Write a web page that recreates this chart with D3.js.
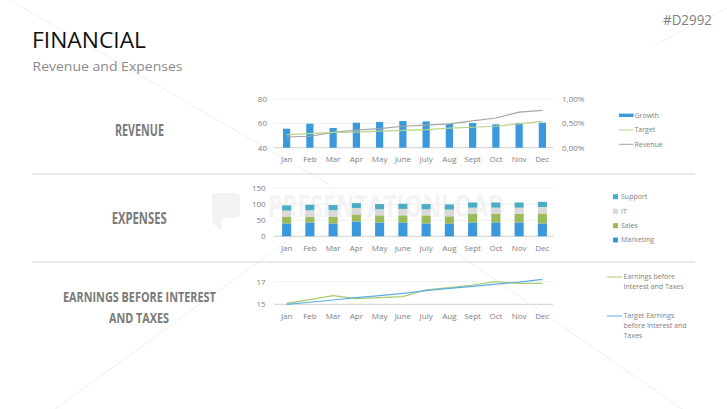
<!DOCTYPE html>
<html><head><meta charset="utf-8">
<script src="https://cdn.jsdelivr.net/npm/d3@7"></script>
<style>
html,body{margin:0;padding:0;background:#fff;}
svg{display:block;}
text{font-family:"Open Sans",sans-serif;}
</style></head>
<body>
<svg id="c" width="727" height="409"></svg>
<script>
// ---------- DATA ----------
const months = ["Jan","Feb","Mar","Apr","May","June","July","Aug","Sept","Oct","Nov","Dec"];
// Revenue section
const growth  = [55.6,59.7,56.2,60.5,61.1,61.9,61.6,59.5,60.3,59.2,60.3,60.5];        // left axis
const target  = [0.27,0.29,0.315,0.32,0.34,0.355,0.37,0.40,0.42,0.44,0.49,0.54];      // right axis (%)
const revenue = [0.22,0.235,0.315,0.36,0.39,0.44,0.465,0.49,0.55,0.61,0.73,0.765];   // right axis (%)
const revLeftTicks = [40,60,80];
const revRightTicks = [0,0.5,1];
// Expenses section
const marketing = [40,43,40,46,43,43,40,40,43,43,43,40];
const sales     = [20,18,21,22,22,22,25,22,27,27,27,31];
const it        = [20,20,20,20,19,20,19,21,19,19,19,20];
const support   = [16,17,16,15,16,16,16,16,16,16,16,16];
const expTicks = [0,50,100,150];
// Earnings section
const ebit       = [15.09,15.41,15.76,15.5,15.59,15.68,16.29,16.47,16.71,17.0,16.85,16.85];
const ebitTarget = [15.0,15.18,15.38,15.59,15.76,15.97,16.21,16.41,16.59,16.79,16.97,17.21];
const earnTicks = [15,17];

// ---------- STYLE ----------
const C = {
  blue:"#3a98dd", sales:"#9bbb59", it:"#d9d9d9", support:"#4bacc6",
  target:"#b8d48a", revenue:"#a6a6a6", ebit:"#a9c96b", ebitT:"#5aaee3",
  text:"#808080", grid:"#efefef", base:"#d9d9d9", sep:"#d4d4d4"
};

const svg = d3.select("#c");

// faint decorative diagonal lines
const deco = [[10,0,330,185],[0,449,330,210],[455,252,727,440],[655,45,727,8]];
svg.append("g").selectAll("line").data(deco).join("line")
  .attr("x1",d=>d[0]).attr("y1",d=>d[1]).attr("x2",d=>d[2]).attr("y2",d=>d[3])
  .attr("stroke","#efefef").attr("stroke-width",1);

// fit text horizontally to a width via a scale transform
function fitText(sel, x, y, w){
  const w0 = sel.node().getComputedTextLength() || w;
  sel.attr("transform",`translate(${x},${y}) scale(${w/w0},1)`);
  return sel;
}

// watermark
svg.append("path")
  .attr("d","M216,193 H234 Q240,193 240,199 V212 Q240,218 234,218 H222 V230 Q212,226 212,218 V197 Q212,193 216,193 Z")
  .attr("fill","#f3f3f3");
fitText(svg.append("text").attr("font-size",30).attr("font-weight","bold").attr("fill","#f3f3f3").text("PRESENTATIONLOAD"),
  268, 216.5, 237);

// titles
fitText(svg.append("text").attr("font-size",22).attr("fill","#111").text("FINANCIAL"), 32, 47.7, 114);
fitText(svg.append("text").attr("font-size",13.5).attr("fill","#8a8a8a").text("Revenue and Expenses"), 32.5, 70.7, 150);
fitText(svg.append("text").attr("font-size",14).attr("fill","#7f7f7f").text("#D2992"), 663, 25, 49);

// section labels
const secLabels = [
  {t:"REVENUE", x:115, y:136, w:49, fs:16},
  {t:"EXPENSES", x:111.7, y:224, w:55, fs:16},
  {t:"EARNINGS BEFORE INTEREST", x:63, y:302.2, w:153, fs:15},
  {t:"AND TAXES", x:109, y:322.8, w:60, fs:15}
];
secLabels.forEach(d=>{
  const t = svg.append("text")
    .attr("font-family","'DejaVu Sans Condensed','DejaVu Sans',sans-serif").attr("font-weight","bold")
    .attr("font-size",d.fs).attr("fill","#7a7a7a").text(d.t);
  fitText(t, d.x, d.y, d.w);
});

// separators
[174,262].forEach(y=>svg.append("line").attr("x1",32).attr("x2",695).attr("y1",y).attr("y2",y)
  .attr("stroke",C.sep).attr("stroke-width",1));

// shared x scale
const x = d3.scaleBand().domain(months).range([275,554]).paddingInner(0).paddingOuter(0);
const gx0 = 274, gx1 = 553;

function styleAxis(g){
  g.select(".domain").remove();
  g.selectAll(".tick line").remove();
  g.selectAll("text").attr("fill",C.text).attr("font-size",8).attr("font-family","'Open Sans',sans-serif");
}
function xAxis(y){
  svg.append("g").attr("transform",`translate(0,${y})`)
    .call(d3.axisBottom(x).tickSize(0).tickPadding(0)).call(styleAxis)
    .selectAll("text").attr("dy","0");
}
function grid(yScale, ticks, base){
  const g = svg.append("g");
  g.selectAll("line").data(ticks).join("line")
    .attr("x1",gx0).attr("x2",gx1).attr("y1",d=>yScale(d)).attr("y2",d=>yScale(d))
    .attr("stroke",d=>d===base?C.base:C.grid).attr("stroke-width",d=>d===base?1.3:1);
}

// ---------- REVENUE ----------
const yR = d3.scaleLinear().domain([40,80]).range([147.7,99]);
const yRp = d3.scaleLinear().domain([0,1]).range([147.7,99]);
grid(yR, revLeftTicks, 40);
svg.append("g").attr("transform",`translate(267,0)`)
  .call(d3.axisLeft(yR).tickValues(revLeftTicks).tickSize(0).tickPadding(0)).call(styleAxis);
svg.append("g").attr("transform",`translate(562,0)`)
  .call(d3.axisRight(yRp).tickValues(revRightTicks).tickSize(0).tickPadding(0)
    .tickFormat(d=>d3.format(".2f")(d).replace(".",",")+"%")).call(styleAxis);
const bwR = x.bandwidth()*0.31;
svg.append("g").selectAll("rect").data(growth).join("rect")
  .attr("x",(d,i)=>x(months[i])+x.bandwidth()/2-bwR/2).attr("width",bwR)
  .attr("y",d=>yR(d)).attr("height",d=>yR(40)-yR(d)).attr("fill",C.blue);
const lineR = d3.line().x((d,i)=>x(months[i])+x.bandwidth()/2).y(d=>yRp(d));
svg.append("path").datum(revenue).attr("d",lineR).attr("fill","none").attr("stroke",C.revenue).attr("stroke-width",1.2);
svg.append("path").datum(target).attr("d",lineR).attr("fill","none").attr("stroke",C.target).attr("stroke-width",1.2);
xAxis(162);

// revenue legend
svg.append("rect").attr("x",619).attr("y",113.6).attr("width",14.5).attr("height",3.4).attr("fill",C.blue);
[[130,C.target],[144.3,C.revenue]].forEach(([y,c])=>svg.append("line")
  .attr("x1",619).attr("x2",633.5).attr("y1",y).attr("y2",y).attr("stroke",c).attr("stroke-width",1));
[["Growth",115.3],["Target",130],["Revenue",144.3]].forEach(([t,y])=>svg.append("text")
  .attr("x",634.5).attr("y",y).attr("dy","0.35em").attr("font-size",7).attr("fill",C.text).text(t));

// ---------- EXPENSES ----------
const yE = d3.scaleLinear().domain([0,150]).range([236.3,188]);
grid(yE, expTicks, 0);
svg.append("g").attr("transform",`translate(265.7,0)`)
  .call(d3.axisLeft(yE).tickValues(expTicks).tickSize(0).tickPadding(0)).call(styleAxis);
const expRows = months.map((m,i)=>({m, Marketing:marketing[i], Sales:sales[i], IT:it[i], Support:support[i]}));
const keys = ["Marketing","Sales","IT","Support"];
const colors = {Marketing:C.blue, Sales:C.sales, IT:C.it, Support:C.support};
const stack = d3.stack().keys(keys)(expRows);
const bwE = x.bandwidth()*0.39;
svg.append("g").selectAll("g").data(stack).join("g").attr("fill",d=>colors[d.key])
  .selectAll("rect").data(d=>d).join("rect")
  .attr("x",d=>x(d.data.m)+x.bandwidth()/2-bwE/2).attr("width",bwE)
  .attr("y",d=>yE(d[1])).attr("height",d=>yE(d[0])-yE(d[1]));
xAxis(250.7);

// expenses legend
const expLeg = [["Support",196.7],["IT",211.3],["Sales",225.7],["Marketing",240]];
expLeg.forEach(([k,y])=>{
  svg.append("rect").attr("x",613).attr("y",y-2.5).attr("width",5).attr("height",5).attr("fill",colors[k]);
  svg.append("text").attr("x",621).attr("y",y).attr("dy","0.35em").attr("font-size",7).attr("fill",C.text).text(k);
});

// ---------- EARNINGS ----------
const yEa = d3.scaleLinear().domain([15,17]).range([304.3,281.7]);
grid(yEa, earnTicks, 15);
svg.append("g").attr("transform",`translate(265.7,0)`)
  .call(d3.axisLeft(yEa).tickValues(earnTicks).tickSize(0).tickPadding(0).tickFormat(d3.format("d"))).call(styleAxis);
const lineEa = d3.line().x((d,i)=>x(months[i])+x.bandwidth()/2).y(d=>yEa(d));
svg.append("path").datum(ebit).attr("d",lineEa).attr("fill","none").attr("stroke",C.ebit).attr("stroke-width",1.2);
svg.append("path").datum(ebitTarget).attr("d",lineEa).attr("fill","none").attr("stroke",C.ebitT).attr("stroke-width",1.2);
xAxis(319);

// earnings legend
const earnLeg = [
  {c:C.ebit, y:277, lines:["Earnings before","Interest and Taxes"]},
  {c:C.ebitT, y:316, lines:["Target Earnings","before Interest and","Taxes"]}
];
earnLeg.forEach(l=>{
  svg.append("line").attr("x1",607).attr("x2",622).attr("y1",l.y).attr("y2",l.y).attr("stroke",l.c).attr("stroke-width",1);
  l.lines.forEach((t,j)=>svg.append("text").attr("x",623.5).attr("y",l.y+j*10).attr("dy","0.35em")
    .attr("font-size",7).attr("fill",C.text).text(t));
});
</script>
</body></html>
